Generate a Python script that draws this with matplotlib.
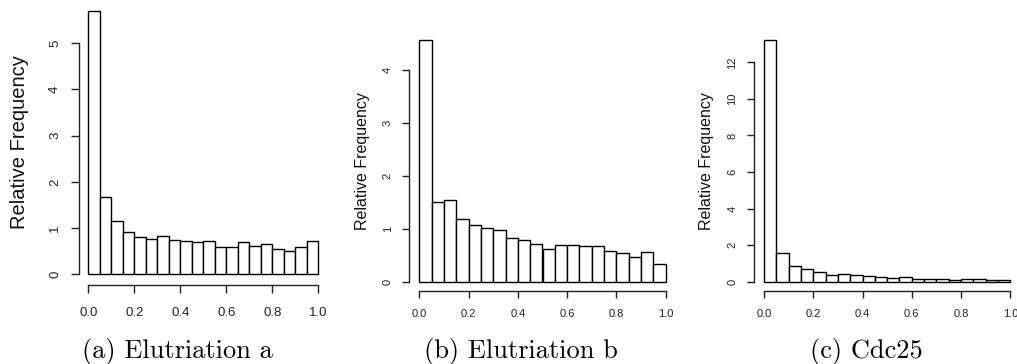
import numpy as np
import matplotlib
matplotlib.use('Agg')
import matplotlib.pyplot as plt

# データ----------------------------------------------------------------------
bin_edges = np.linspace(0.0, 1.0, 21)

elutriation_a = [5.70, 1.67, 1.15, 0.91, 0.815, 0.765, 0.82, 0.74, 0.72, 0.69,
                 0.71, 0.58, 0.58, 0.69, 0.61, 0.65, 0.55, 0.505, 0.59, 0.71]
elutriation_b = [4.57, 1.51, 1.545, 1.18, 1.08, 1.01, 0.97, 0.83, 0.79, 0.72,
                 0.62, 0.70, 0.69, 0.67, 0.67, 0.59, 0.54, 0.46, 0.555, 0.33]
cdc25 = [13.2, 1.57, 0.875, 0.675, 0.51, 0.35, 0.40, 0.365, 0.29, 0.24,
         0.18, 0.24, 0.16, 0.16, 0.16, 0.11, 0.16, 0.145, 0.11, 0.09]

x_ticks = [0.0, 0.2, 0.4, 0.6, 0.8, 1.0]
y_ticks_a = [0, 1, 2, 3, 4, 5]
y_ticks_b = [0, 1, 2, 3, 4]
y_ticks_c = [0, 2, 4, 6, 8, 10, 12]

captions = ['(a) Elutriation a', '(b) Elutriation b', '(c) Cdc25']

W, H = 1017, 364


# パネル描画------------------------------------------------------------------
def draw_panel(fig, heights, yticks, box, tick_fs, label_fs, tick_len,
               xpad, ypad, ylab_x, ylab_y, caption, cap_x, cap_y):
    # box = (左, 上, 右, 下) ピクセル
    l, t, r, b = box
    ax = fig.add_axes([l / W, 1 - b / H, (r - l) / W, (b - t) / H])
    widths = np.diff(bin_edges)
    ax.bar(bin_edges[:-1], heights, width=widths, align='edge',
           color='white', edgecolor='black', linewidth=1.0)

    ymax = max(heights)
    ax.set_xlim(-0.04, 1.04)
    ax.set_ylim(-0.04 * ymax, 1.04 * ymax)

    for s in ['top', 'right']:
        ax.spines[s].set_visible(False)
    ax.spines['left'].set_bounds(yticks[0], yticks[-1])
    ax.spines['bottom'].set_bounds(0.0, 1.0)
    for s in ['left', 'bottom']:
        ax.spines[s].set_color('#222222')
        ax.spines[s].set_linewidth(1.0)

    ax.set_xticks(x_ticks)
    ax.set_xticklabels(['%.1f' % v for v in x_ticks])
    ax.set_yticks(yticks)
    ax.set_yticklabels([str(v) for v in yticks], rotation=90, va='center')
    ax.tick_params(length=tick_len, width=1.0, color='#222222',
                   labelsize=tick_fs, labelcolor='#222222')
    ax.tick_params(axis='x', pad=xpad)
    ax.tick_params(axis='y', pad=ypad)

    fig.text(ylab_x / W, 1 - ylab_y / H, 'Relative Frequency',
             rotation=90, ha='center', va='center', fontsize=label_fs,
             family='Liberation Sans', color='#111111')
    fig.text(cap_x / W, 1 - cap_y / H, caption, ha='center', va='baseline',
             fontsize=19, family='cmr10', color='black')
    return ax


plt.rcParams['font.family'] = 'Liberation Sans'
fig = plt.figure(figsize=(W / 100, H / 100), dpi=100)

draw_panel(fig, elutriation_a, y_ticks_a, (79.1, 0.4, 327.5, 284.8),
           9.5, 14.5, 6, 10, 7, 20, 142, captions[0], 177, 358)
draw_panel(fig, elutriation_b, y_ticks_b, (409.4, 30.6, 675.6, 291.4),
           8, 11.5, 5, 7.4, 7, 362, 161, captions[1], 521, 358)
draw_panel(fig, cdc25, y_ticks_c, (754.1, 30.7, 1020.2, 291.4),
           8, 11.5, 5, 7.4, 7, 707, 161, captions[2], 866, 358)

fig.savefig('out.png', dpi=100)
